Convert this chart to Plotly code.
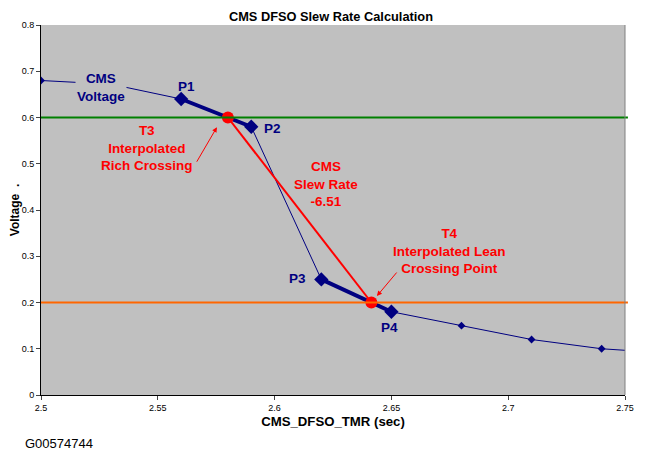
import plotly.graph_objects as go

# CMS voltage samples
t_sec = [2.50, 2.53, 2.56, 2.59, 2.62, 2.65, 2.68, 2.71, 2.74, 2.77]
volts = [0.68, 0.672, 0.64, 0.58, 0.25, 0.18, 0.15, 0.12, 0.10, 0.09]

# highlighted points P1..P4
p_names = ["P1", "P2", "P3", "P4"]
p_t = [2.56, 2.59, 2.62, 2.65]
p_v = [0.64, 0.58, 0.25, 0.18]

rich_thr = 0.6
lean_thr = 0.2

# interpolated crossings T3 / T4
t3 = p_t[0] + (p_v[0] - rich_thr) / (p_v[0] - p_v[1]) * (p_t[1] - p_t[0])
t4 = p_t[2] + (p_v[2] - lean_thr) / (p_v[2] - p_v[3]) * (p_t[3] - p_t[2])
slew = (lean_thr - rich_thr) / (t4 - t3)

navy = "#000080"
red = "#FF0000"

fig = go.Figure()

fig.add_shape(type="line", xref="paper", yref="y", x0=0, x1=1.005, y0=rich_thr, y1=rich_thr,
              line=dict(color="#008000", width=2))
fig.add_shape(type="line", xref="paper", yref="y", x0=0, x1=1.005, y0=lean_thr, y1=lean_thr,
              line=dict(color="#FF6600", width=2))

fig.add_trace(go.Scatter(x=t_sec, y=volts, mode="lines+markers",
                         line=dict(color=navy, width=1),
                         marker=dict(symbol="diamond", size=6, color=navy),
                         showlegend=False))

fig.add_trace(go.Scatter(x=[p_t[0], p_t[1]], y=[p_v[0], p_v[1]], mode="lines",
                         line=dict(color=navy, width=4), showlegend=False))
fig.add_trace(go.Scatter(x=[p_t[2], p_t[3]], y=[p_v[2], p_v[3]], mode="lines",
                         line=dict(color=navy, width=4), showlegend=False))
fig.add_trace(go.Scatter(x=p_t, y=p_v, mode="markers",
                         marker=dict(symbol="diamond", size=11, color=navy),
                         showlegend=False))

fig.add_trace(go.Scatter(x=[t3, t4], y=[rich_thr, lean_thr], mode="lines+markers",
                         line=dict(color=red, width=2),
                         marker=dict(size=12, color=red), showlegend=False))

lbl = dict(family="Liberation Sans, Arial", size=13.5, color=navy)
red_font = dict(family="Liberation Sans, Arial", size=13.5, color=red)

p_pos = [(2.5621, 0.668), (2.5993, 0.577), (2.610, 0.251), (2.649, 0.145)]
for name, (x, y) in zip(p_names, p_pos):
    fig.add_annotation(x=x, y=y, text="<b>%s</b>" % name, showarrow=False, font=lbl)

fig.add_annotation(x=2.5257, y=0.664, text="<b>CMS<br>Voltage</b>", showarrow=False,
                   font=lbl, bgcolor="#C0C0C0")
fig.add_annotation(x=2.5454, y=0.534, text="<b>T3<br>Interpolated<br>Rich Crossing</b>",
                   showarrow=False, font=red_font)
fig.add_annotation(x=2.622, y=0.456, text="<b>CMS<br>Slew Rate<br>%.2f</b>" % slew,
                   showarrow=False, font=red_font)
fig.add_annotation(x=2.6747, y=0.312, text="<b>T4<br>Interpolated Lean<br>Crossing Point</b>",
                   showarrow=False, font=red_font)

fig.add_annotation(x=2.5753, y=0.579, ax=-21, ay=36, text="", showarrow=True,
                   arrowhead=2, arrowsize=1, arrowwidth=1, arrowcolor=red)
fig.add_annotation(x=2.6438, y=0.214, ax=21, ay=-25, text="", showarrow=True,
                   arrowhead=2, arrowsize=1, arrowwidth=1, arrowcolor=red)

fig.add_annotation(xref="paper", yref="paper", x=-0.03, y=-0.105, xanchor="left",
                   yanchor="top", text="G00574744", showarrow=False,
                   font=dict(family="Liberation Sans, Arial", size=13, color="black"))

# page body has an 8px margin, so the figure is 8px smaller than the window
fig.update_layout(
    width=637, height=451,
    margin=dict(l=33, r=20, t=17, b=64, autoexpand=False),
    paper_bgcolor="white", plot_bgcolor="#C0C0C0",
    font=dict(family="Liberation Sans, Arial", color="black"),
    title=dict(text="<b>CMS DFSO Slew Rate Calculation</b>", x=0.507, y=0.99,
               xanchor="center", yanchor="top", font=dict(size=12.8)),
    xaxis=dict(range=[2.5, 2.75], dtick=0.05, showgrid=False, automargin=False,
               zeroline=False, showline=True, linecolor="black",
               ticks="outside", ticklen=4, tickfont=dict(size=9),
               title=dict(text="<b>CMS_DFSO_TMR (sec)</b>", font=dict(size=13.2), standoff=4)),
    yaxis=dict(range=[0, 0.8], dtick=0.1, showgrid=False, zeroline=False, automargin=False,
               showline=True, linecolor="black", ticks="outside", ticklen=4,
               tickfont=dict(size=9),
               title=dict(text="<b>Voltage  .</b>", font=dict(size=12), standoff=4)),
)

fig.add_shape(type="line", xref="paper", yref="paper", x0=1, x1=1, y0=0, y1=1,
              line=dict(color="#808080", width=1))

fig.write_html("out.html")
